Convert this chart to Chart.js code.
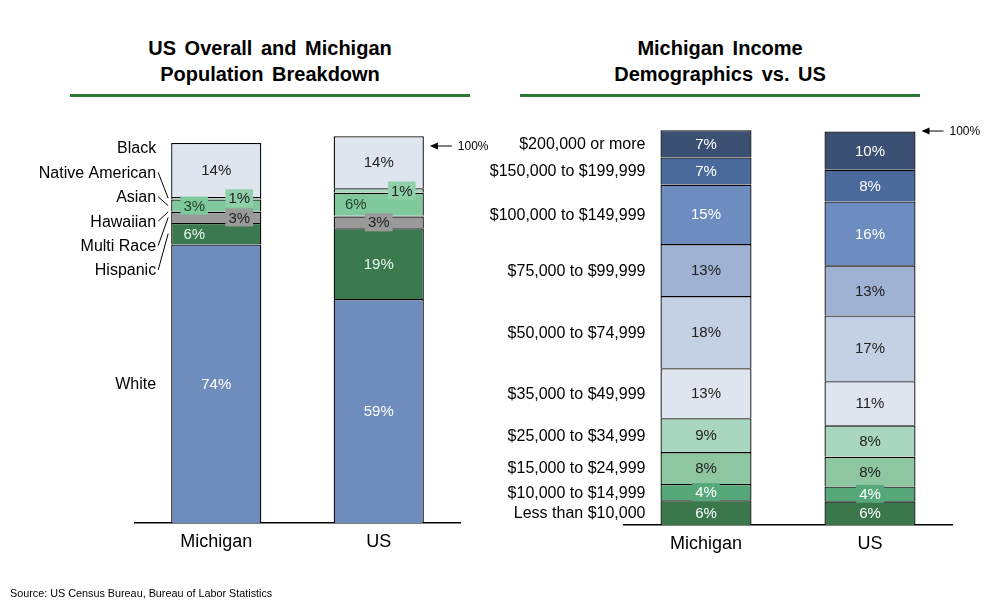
<!DOCTYPE html>
<html>
<head>
<meta charset="utf-8">
<script src="https://cdn.jsdelivr.net/npm/chart.js@4.4.0/dist/chart.umd.min.js"></script>
<style>
body { margin: 0; width: 1008px; height: 610px; background: #fff; position: relative; overflow: hidden;
       font-family: Arial, "Liberation Sans", sans-serif; }
.title { position: absolute; top: 35px; width: 400px; text-align: center; font-weight: bold;
         font-size: 20px; line-height: 26px; color: #000; word-spacing: 3px; }
.rule { position: absolute; top: 94px; width: 400px; border-top: 3px solid #2d7a33; }
canvas { position: absolute; top: 0; }
#source { position: absolute; left: 10px; top: 587px; font-size: 10.8px; color: #000; }
</style>
</head>
<body>
<div class="title" style="left:70px">US Overall and Michigan<br>Population Breakdown</div>
<div class="rule" style="left:70px"></div>
<div class="title" style="left:520px">Michigan Income<br>Demographics vs. US</div>
<div class="rule" style="left:520px"></div>
<canvas id="incomeChart" width="548" height="610" style="left:460px"></canvas>
<canvas id="raceChart" width="500" height="610" style="left:0"></canvas>
<div id="source">Source: US Census Bureau, Bureau of Labor Statistics</div>
<script>
const bars = ['Michigan', 'US'];

// race breakdown, bottom to top (percent)
const raceNames = ['White', 'Hispanic', 'Multi Race', 'Hawaiian', 'Asian', 'Native American', 'Black'];
const raceMichigan = [73.9, 5.7, 2.9, 0.1, 3.2, 0.7, 14.3];
const raceUS = [59.4, 18.8, 3.1, 0.2, 6.1, 1.2, 13.8];

// household income, bottom to top (percent)
const incomeNames = ['Less than $10,000', '$10,000 to $14,999', '$15,000 to $24,999', '$25,000 to $34,999',
    '$35,000 to $49,999', '$50,000 to $74,999', '$75,000 to $99,999', '$100,000 to $149,999',
    '$150,000 to $199,999', '$200,000 or more'];
const incomeMichigan = [6.3, 4.1, 8.1, 8.6, 12.7, 18.3, 13.2, 15.1, 6.9, 6.9];
const incomeUS = [6.0, 3.8, 7.5, 8.0, 11.2, 16.7, 12.7, 16.2, 8.1, 9.7];

const raceColors = ['#6f8dbc', '#3b7a4e', '#9a9a9a', '#7a7a7a', '#80c99d', '#a9d8bc', '#dfe5ef'];
const incomeColors = ['#3a774a', '#56a87b', '#8fc6a2', '#a9d6bf', '#dfe5ef',
    '#c4d0e4', '#9fb2d3', '#6d8dc0', '#4a6a9c', '#3a4f72'];

// label look per segment: text colour, x shift per bar, optional box
const raceLabels = [
    { color: '#fff', dx: [0, 0] },
    { color: '#e8f5ec', dx: [-22, 0] },
    { color: '#222', dx: [23, 0], box: ['#9a9a9a', '#9a9a9a'] },
    null,
    { color: '#1e3d2a', dx: [-22, -23], box: ['#80c99d', null] },
    { color: '#222', dx: [23, 23], box: ['#8fd0aa', '#8fd0aa'] },
    { color: '#222', dx: [0, 0] }
];
const incomeLabels = incomeColors.map((c, i) => ({
    color: [0, 1, 7, 8, 9].includes(i) ? '#fff' : '#222',
    dx: [0, 0],
    box: i === 1 ? ['#56a87b', '#56a87b'] : null
}));

const FONT = 'Arial, "Liberation Sans", sans-serif';

function overlay(cfg) {
    return {
        id: 'overlay',
        afterDatasetsDraw(chart) {
            const ctx = chart.ctx;
            const y = chart.scales.y;
            ctx.save();

            // segment values
            ctx.font = '15px ' + FONT;
            ctx.textAlign = 'center';
            ctx.textBaseline = 'middle';
            chart.data.datasets.forEach((ds, di) => {
                const st = cfg.labels[di];
                if (!st) return;
                chart.getDatasetMeta(di).data.forEach((el, bi) => {
                    const txt = Math.round(ds.data[bi]) + '%';
                    const x = el.x + st.dx[bi];
                    const cy = (el.y + el.base) / 2;
                    const box = st.box ? st.box[bi] : null;
                    if (box) {
                        const w = ctx.measureText(txt).width;
                        ctx.fillStyle = box;
                        ctx.fillRect(x - w / 2 - 3, cy - 9, w + 6, 18);
                    }
                    ctx.fillStyle = st.color;
                    ctx.fillText(txt, x, cy + 1);
                });
            });

            // category names on the left of the first bar
            ctx.font = '16px ' + FONT;
            ctx.textAlign = 'right';
            ctx.fillStyle = '#000';
            ctx.strokeStyle = '#000';
            ctx.lineWidth = 1;
            const first = chart.getDatasetMeta(0).data[0];
            const left = first.x - first.width / 2;
            chart.data.datasets.forEach((ds, di) => {
                const el = chart.getDatasetMeta(di).data[0];
                const cy = (el.y + el.base) / 2;
                const ly = cfg.nameY ? cfg.nameY(di, cy) : cy;
                ctx.fillText(ds.label, left - 15, ly + 1);
                if (cfg.leaders && cfg.leaders.includes(di)) {
                    ctx.beginPath();
                    ctx.moveTo(left - 13, ly);
                    ctx.lineTo(left - 3, cy);
                    ctx.stroke();
                }
            });

            // 100% marker next to the second bar
            const el = chart.getDatasetMeta(0).data[1];
            const ax = el.x + el.width / 2 + 6;
            const ay = y.getPixelForValue(100);
            ctx.beginPath();
            ctx.moveTo(ax + 3, ay);
            ctx.lineTo(ax + 22, ay);
            ctx.stroke();
            ctx.beginPath();
            ctx.moveTo(ax, ay);
            ctx.lineTo(ax + 8, ay - 3.5);
            ctx.lineTo(ax + 8, ay + 3.5);
            ctx.closePath();
            ctx.fill();
            ctx.font = '12px ' + FONT;
            ctx.textAlign = 'left';
            ctx.fillText('100%', ax + 28, ay + 1);
            ctx.restore();
        }
    };
}

function stackedChart(id, names, a, b, colors, opts) {
    return new Chart(document.getElementById(id), {
        type: 'bar',
        data: {
            labels: bars,
            datasets: names.map((n, i) => ({
                label: n,
                data: [a[i], b[i]],
                backgroundColor: colors[i],
                borderColor: '#000',
                borderWidth: { top: 1.3, left: 1.3, right: 1.3, bottom: 0 },
                borderSkipped: false,
                barPercentage: 0.555,
                categoryPercentage: 1
            }))
        },
        options: {
            responsive: false,
            animation: false,
            layout: { padding: opts.padding },
            plugins: {
                legend: { display: false },
                tooltip: { enabled: false }
            },
            scales: {
                x: {
                    stacked: true,
                    grid: { display: false },
                    border: { display: true, color: '#000', width: 1.5 },
                    ticks: { color: '#000', padding: 0, font: { size: 18, family: FONT } },
                    afterFit: s => { s.height = opts.axisHeight; }
                },
                y: { stacked: true, display: false, min: 0, max: opts.max }
            }
        },
        plugins: [overlay(opts.overlay)]
    });
}

stackedChart('raceChart', raceNames, raceMichigan, raceUS, raceColors, {
    padding: { left: 135, right: 40, top: 120, bottom: 0 },
    axisHeight: 87,
    max: 106.9,
    overlay: {
        labels: raceLabels,
        leaders: [1, 2, 3, 4, 5],
        nameY: (di, cy) => di === 0 ? cy : 148 + (6 - di) * 24.4
    }
});

stackedChart('incomeChart', incomeNames, incomeMichigan, incomeUS, incomeColors, {
    padding: { left: 164, right: 56, top: 120, bottom: 0 },
    axisHeight: 85,
    max: 102.8,
    overlay: { labels: incomeLabels }
});
</script>
</body>
</html>
